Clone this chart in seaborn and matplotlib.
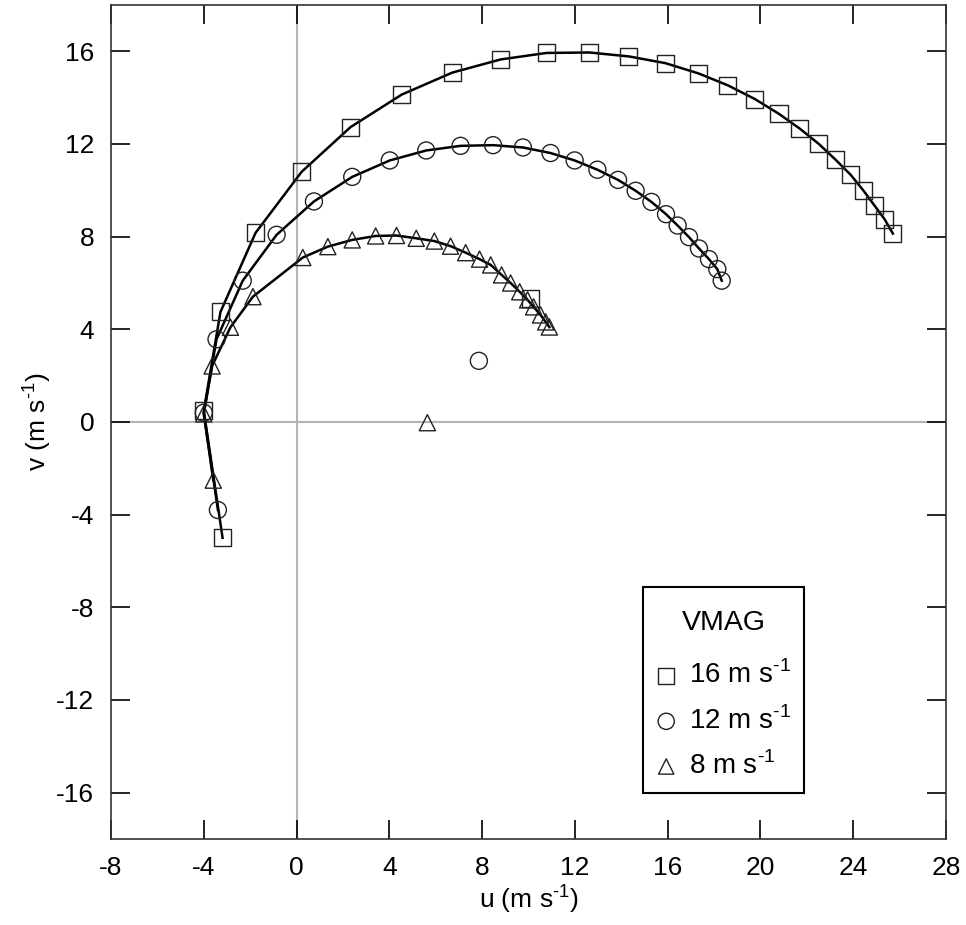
import matplotlib
matplotlib.use('Agg')
import pandas as pd
import matplotlib.pyplot as plt
import seaborn as sns
from matplotlib.offsetbox import VPacker, DrawingArea

# hodograph points (u, v in m s-1)
u16 = [-3.19, -4.0, -3.28, -1.77, 0.22, 2.33, 4.53, 6.71, 8.80, 10.78, 12.62, 14.33, 15.90,
       17.32, 18.60, 19.76, 20.80, 21.70, 22.52, 23.23, 23.89, 24.44, 24.92, 25.36, 25.71]
v16 = [-5.0, 0.48, 4.75, 8.16, 10.8, 12.73, 14.13, 15.08, 15.65, 15.93, 15.95, 15.78, 15.49,
       15.05, 14.53, 13.94, 13.30, 12.66, 12.0, 11.33, 10.67, 9.99, 9.34, 8.74, 8.13]

u12 = [-3.39, -4.0, -3.45, -2.32, -0.86, 0.75, 2.40, 4.02, 5.59, 7.07, 8.47, 9.76, 10.95,
       11.99, 12.97, 13.86, 14.62, 15.30, 15.93, 16.43, 16.92, 17.35, 17.78, 18.14, 18.33]
v12 = [-3.80, 0.40, 3.57, 6.10, 8.08, 9.52, 10.58, 11.29, 11.72, 11.92, 11.95, 11.85, 11.61,
       11.29, 10.89, 10.45, 9.98, 9.50, 8.97, 8.48, 7.98, 7.49, 7.03, 6.60, 6.10]

u8 = [-3.59, -4.0, -3.64, -2.85, -1.88, 0.27, 1.35, 2.40, 3.41, 4.31, 5.16, 5.94, 6.64,
      7.29, 7.89, 8.37, 8.84, 9.23, 9.62, 9.96, 10.22, 10.52, 10.74, 10.90]
v8 = [-2.51, 0.35, 2.42, 4.09, 5.41, 7.10, 7.57, 7.86, 8.03, 8.05, 7.93, 7.81, 7.59,
      7.31, 7.03, 6.78, 6.35, 6.0, 5.62, 5.27, 4.97, 4.62, 4.32, 4.10]

# single off-curve points, one per VMAG
u_extra = [10.09, 7.86, 5.64]
v_extra = [5.32, 2.64, -0.03]

labels = ['16', '12', '8']
markers = ['s', 'o', '^']
sizes = [150, 150, 135]

plt.rcParams['font.family'] = ['Liberation Sans', 'DejaVu Sans']
plt.rcParams['mathtext.fontset'] = 'custom'
plt.rcParams['mathtext.rm'] = 'Liberation Sans'
plt.rcParams['axes.unicode_minus'] = False

FS = 19
unit = r'm s$^{\text{-1}}$'

fig = plt.figure(figsize=(9.66, 9.25), dpi=100)
ax = fig.add_axes([0.1149, 0.0930, 0.8644, 0.9016])

ax.axhline(0, color='#b4b4b4', lw=1.5, zorder=0)
ax.axvline(0, color='#b4b4b4', lw=1.5, zorder=0)

series = [(u16, v16), (u12, v12), (u8, v8)]
handles = []
for i, (us, vs) in enumerate(series):
    df = pd.DataFrame({'u': us, 'v': vs})
    sns.lineplot(data=df, x='u', y='v', sort=False, estimator=None, color='black', lw=1.8, ax=ax)
    pts = pd.DataFrame({'u': us + [u_extra[i]], 'v': vs + [v_extra[i]]})
    sns.scatterplot(data=pts, x='u', y='v', marker=markers[i], s=sizes[i],
                    facecolors='none', edgecolors='#222222', linewidth=1.0, ax=ax, zorder=3)
    handles.append(ax.collections[-1])

ax.set_xlim(-8, 28)
ax.set_ylim(-18, 18)
ax.set_xticks(range(-8, 29, 4))
ax.set_yticks(range(-16, 17, 4))
ax.tick_params(direction='in', length=14, width=1.2, top=True, right=True,
               labelsize=FS, pad=12, colors='black')
for sp in ax.spines.values():
    sp.set_color('#333333')
    sp.set_linewidth(1.2)
ax.set_xlabel('u (' + unit + ')', fontsize=FS, labelpad=2)
ax.set_ylabel('v (' + unit + ')', fontsize=FS, labelpad=2)

leg = ax.legend(handles, [lab + ' ' + unit for lab in labels],
                title='VMAG', loc='lower left', bbox_to_anchor=(0.637, 0.055),
                borderaxespad=0, fontsize=20, title_fontsize=20.5, markerscale=0.95,
                handletextpad=0.45, handlelength=0.72, labelspacing=0.6, borderpad=0.48,
                fancybox=False, edgecolor='black', framealpha=1)
leg.get_frame().set_linewidth(1.5)
leg._legend_box.sep = 18
# a bit of extra room above the title
leg._legend_box._children[0] = VPacker(children=[DrawingArea(1, 7), leg._legend_title_box],
                                       pad=0, sep=0, align='center')
leg._legend_box.set_figure(fig)

plt.savefig('out.png')
plt.close()
